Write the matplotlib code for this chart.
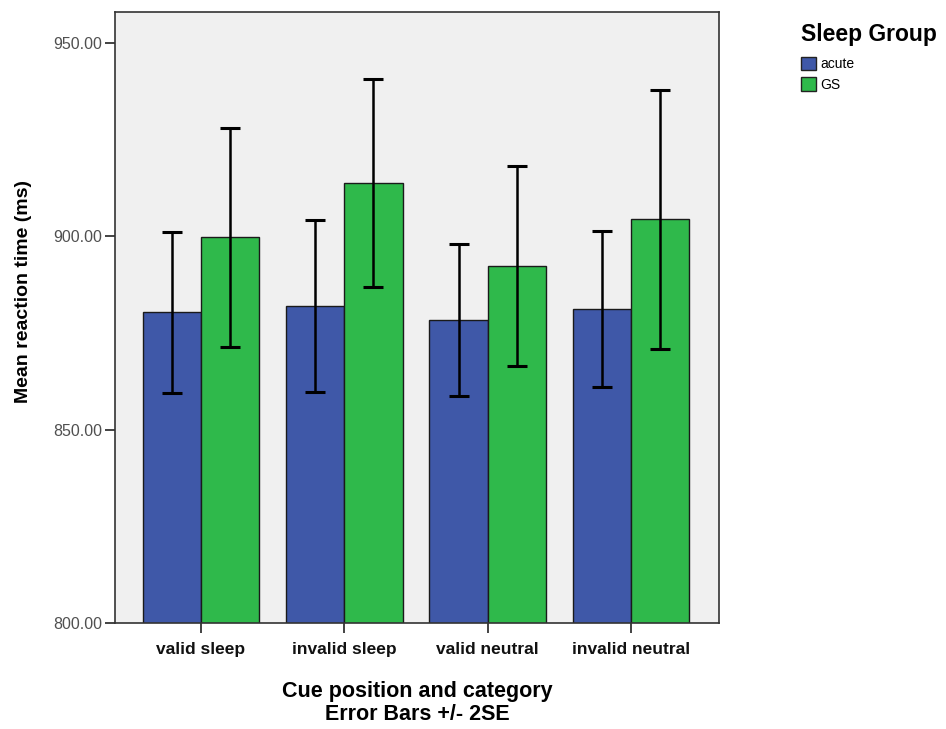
import numpy as np
import matplotlib
matplotlib.use('Agg')
import matplotlib.pyplot as plt
import matplotlib.patches as mpatches

plt.rcParams['font.family'] = ['Liberation Sans', 'DejaVu Sans']

categories = ['valid sleep', 'invalid sleep', 'valid neutral', 'invalid neutral']
acute_mean = [880.3, 882.0, 878.4, 881.2]
acute_err = [20.8, 22.2, 19.6, 20.2]
gs_mean = [899.8, 913.7, 892.3, 904.4]
gs_err = [28.3, 26.9, 25.9, 33.5]
groups = ['acute', 'GS']
colors = ['#3f58a8', '#2fb94b']

fig = plt.figure(figsize=(9.46, 7.29), dpi=100)
ax = fig.add_axes([115 / 946, (729 - 623) / 729, (719 - 115) / 946, (623 - 12) / 729])
ax.set_facecolor('#f0f0f0')

x = np.arange(len(categories))
w = 0.406
err_kw = dict(ecolor='black', elinewidth=1.8, capsize=7, capthick=2.2)
ax.bar(x - w / 2, acute_mean, width=w, color=colors[0], edgecolor='#1a1a1a',
       linewidth=1.0, yerr=acute_err, error_kw=err_kw, zorder=2)
ax.bar(x + w / 2, gs_mean, width=w, color=colors[1], edgecolor='#1a1a1a',
       linewidth=1.0, yerr=gs_err, error_kw=err_kw, zorder=2)

ax.set_ylim(800, 958)
ax.set_xlim(-0.6, 3.614)
ax.set_yticks([800, 850, 900, 950])
ax.set_yticklabels(['%.2f' % v for v in [800, 850, 900, 950]], color='#505050', fontsize=11.5)
ax.set_xticks(x)
ax.set_xticklabels(categories, fontsize=12.5, fontweight='bold', color='#111111')
ax.tick_params(axis='both', direction='out', length=7, width=1.2, color='#222222')
ax.tick_params(axis='y', pad=2)
ax.tick_params(axis='x', pad=7)
for s in ax.spines.values():
    s.set_color('#333333')
    s.set_linewidth(1.2)

ax.set_ylabel('Mean reaction time (ms)', fontsize=14, fontweight='bold')
ax.yaxis.set_label_coords(-0.137, 0.543)
ax.set_xlabel('Cue position and category\nError Bars +/- 2SE', fontsize=15.5,
              fontweight='bold', labelpad=17, linespacing=1.15)

handles = [mpatches.Patch(facecolor=c, edgecolor='#222222', label=g) for c, g in zip(colors, groups)]
leg = fig.legend(handles=handles, loc='upper left', bbox_to_anchor=(795 / 946, 1 - 17 / 729),
                 title='Sleep Group', frameon=False, fontsize=10, handlelength=1.1,
                 handleheight=1.1, handletextpad=0.3, labelspacing=0.45, borderaxespad=0)
leg.get_title().set_fontweight('bold')
leg.get_title().set_fontsize(16.5)
leg._legend_box.align = 'left'
leg._legend_box.sep = 8

fig.savefig('out.png', dpi=100)
